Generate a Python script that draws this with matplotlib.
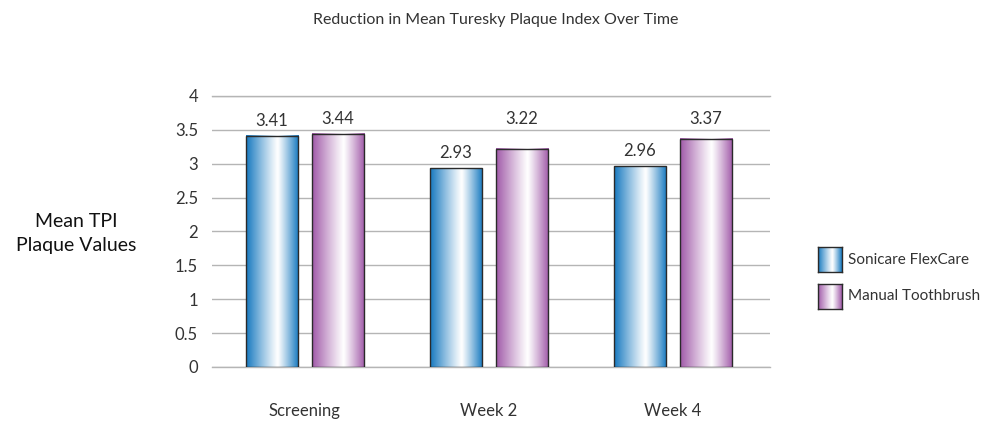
import numpy as np
import matplotlib.pyplot as plt
from matplotlib.colors import to_rgb

plt.rcParams['font.family'] = ['Lato', 'DejaVu Sans']

categories = ['Screening', 'Week 2', 'Week 4']
sonicare = [3.41, 2.93, 2.96]
manual = [3.44, 3.22, 3.37]
series_names = ['Sonicare FlexCare', 'Manual Toothbrush']
yticks = [0, 0.5, 1, 1.5, 2, 2.5, 3, 3.5, 4]
ytick_labels = ['0', '0.5', '1', '1.5', '2', '2.5', '3', '3.5', '4']

blue = '#1578bf'
purple = '#a059a8'


def gradient(color, n=200):
    # horizontal gradient: coloured edges, white stripe slightly right of centre
    t = np.linspace(0, 1, n)
    w = np.where(t < 0.6, (0.6 - t) / 0.6, (t - 0.6) / 0.4)
    w = w ** 1.1
    c = np.array(to_rgb(color))
    img = (1 - w)[:, None] * np.ones(3) + w[:, None] * c
    return img[None, :, :]


def gradient_bars(ax, xs, heights, width, color):
    bars = ax.bar(xs, heights, width, facecolor='none', edgecolor='#2a2a2a',
                  linewidth=1.0, zorder=4)
    for b in bars:
        x0, y0 = b.get_x(), b.get_y()
        ax.imshow(gradient(color), extent=[x0, x0 + b.get_width(), y0, y0 + b.get_height()],
                  aspect='auto', zorder=3, interpolation='bilinear')
    return bars


fig = plt.figure(figsize=(9.92, 4.25), dpi=100)
ax = fig.add_axes([0.2137, 0.1365, 0.5625, 0.638])

x = np.arange(len(categories))
w = 0.285
off = 0.18
gradient_bars(ax, x - off, sonicare, w, blue)
gradient_bars(ax, x + off, manual, w, purple)

for xi, v in zip(x - off, sonicare):
    ax.annotate('%.2f' % v, (xi, v), xytext=(0, 5), textcoords='offset points',
                ha='center', va='bottom', fontsize=12, color='#333333')
top = max(manual)
for xi, v in zip(x + off, manual):
    ax.annotate('%.2f' % v, (xi, top), xytext=(0, 5), textcoords='offset points',
                ha='center', va='bottom', fontsize=12, color='#333333')

ax.set_xlim(-0.505, 2.527)
ax.set_ylim(0, 4)
ax.set_yticks(yticks)
ax.set_yticklabels(ytick_labels)
ax.set_xticks(x)
ax.set_xticklabels(categories)
ax.tick_params(axis='both', length=0, labelsize=12, colors='#333333')
ax.tick_params(axis='x', pad=26)
ax.tick_params(axis='y', pad=10)
ax.grid(axis='y', color='#b5b5b5', linewidth=1.0, zorder=0)
ax.axhline(0, color='#b5b5b5', linewidth=1.0, zorder=1, clip_on=False)
ax.axhline(4, color='#b5b5b5', linewidth=1.0, zorder=1, clip_on=False)
ax.set_axisbelow(True)
for s in ax.spines.values():
    s.set_visible(False)

fig.text(0.5, 0.953, 'Reduction in Mean Turesky Plaque Index Over Time',
         ha='center', va='center', fontsize=11.5, color='#333333')
fig.text(0.077, 0.45, 'Mean TPI\nPlaque Values', ha='center', va='center',
         fontsize=14, color='#111111', linespacing=1.5)

# legend with gradient swatches
for i, (name, col) in enumerate(zip(series_names, [blue, purple])):
    y0 = 425 - 272 - i * 37
    lax = fig.add_axes([818 / 992, y0 / 425, 24 / 992, 25 / 425])
    lax.imshow(gradient(col), aspect='auto', extent=[0, 1, 0, 1], interpolation='bilinear')
    lax.set_xticks([])
    lax.set_yticks([])
    for s in lax.spines.values():
        s.set_color('#2a2a2a')
        s.set_linewidth(1.0)
    fig.text(848 / 992, (y0 + 12.5) / 425, name, ha='left', va='center',
             fontsize=11, color='#333333')

fig.savefig('out.png', dpi=100)
